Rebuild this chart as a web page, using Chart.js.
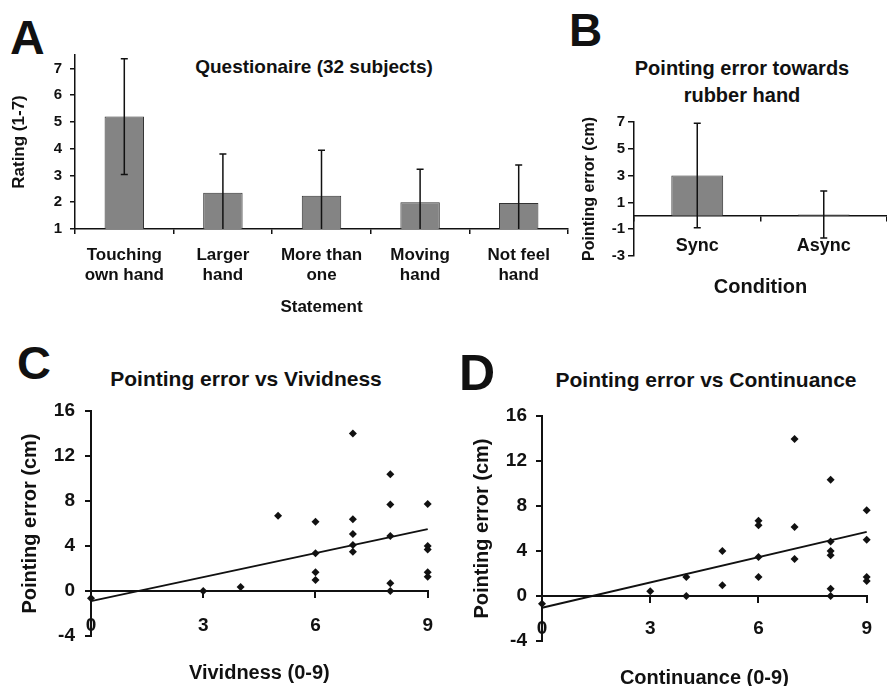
<!DOCTYPE html>
<html>
<head>
<meta charset="utf-8">
<script src="https://cdn.jsdelivr.net/npm/chart.js@4.4.1/dist/chart.umd.min.js"></script>
<style>
  html, body { margin: 0; padding: 0; background: #fff; overflow: hidden; }
  body { width: 887px; height: 686px; position: relative; font-family: 'Liberation Sans', Arial, sans-serif; color: #111; }
  canvas { position: absolute; }
  .title { position: absolute; font-weight: bold; line-height: 1.2; white-space: nowrap; text-align: center; transform: translate(-50%, -50%); }
  .letter { position: absolute; font-weight: bold; line-height: 1; }
</style>
</head>
<body>

<div class="letter" style="left:10px; top:14px; font-size:48px">A</div>
<div class="letter" style="left:569px; top:7px; font-size:46px">B</div>
<div class="letter" style="left:17px; top:339px; font-size:47px">C</div>
<div class="letter" style="left:459px; top:348px; font-size:50px">D</div>

<div class="title" style="left:314px; top:67px; font-size:19px">Questionaire (32 subjects)</div>
<div class="title" style="left:742px; top:82px; font-size:20px; line-height:27px">Pointing error towards<br>rubber hand</div>
<div class="title" style="left:246px; top:379px; font-size:21px">Pointing error vs Vividness</div>
<div class="title" style="left:706px; top:380px; font-size:21px">Pointing error vs Continuance</div>

<canvas id="chartA" width="580" height="330" style="left:0; top:0"></canvas>
<canvas id="chartB" width="327" height="340" style="left:560px; top:0"></canvas>
<canvas id="chartC" width="450" height="356" style="left:0; top:330px"></canvas>
<canvas id="chartD" width="437" height="356" style="left:450px; top:330px"></canvas>

<script>
// Panel A - questionnaire ratings
const statementLabels = [['Touching', 'own hand'], ['Larger', 'hand'], ['More than', 'one'], ['Moving', 'hand'], ['Not feel', 'hand']];
const ratingMean = [5.2, 2.35, 2.24, 2.0, 1.97];
const ratingSD = [2.16, 1.45, 1.7, 1.23, 1.42];

// Panel B - pointing error by condition
const conditionLabels = ['Sync', 'Async'];
const pointingMean = [3.0, 0.1];
const pointingSD = [3.9, 1.75];

// Panel C - pointing error vs vividness
const vividX = [0, 3, 4, 5, 6, 6, 6, 6, 7, 7, 7, 7, 7, 8, 8, 8, 8, 8, 9, 9, 9, 9, 9];
const vividY = [-0.65, 0, 0.35, 6.7, 6.16, 3.35, 1.66, 0.98, 14.0, 6.37, 5.07, 4.09, 3.5, 10.37, 7.7, 4.89, 0.68, 0, 7.73, 4.0, 3.7, 1.66, 1.27];
const vividFitX = [0, 9];
const vividFitY = [-0.9, 5.5];

// Panel D - pointing error vs continuance
const contX = [0, 3, 4, 4, 5, 5, 6, 6, 6, 6, 7, 7, 7, 8, 8, 8, 8, 8, 8, 9, 9, 9, 9];
const contY = [-0.68, 0.42, 1.69, 0, 4.0, 0.95, 6.68, 6.29, 3.47, 1.69, 13.95, 6.14, 3.29, 10.33, 4.84, 4.0, 3.62, 0.65, 0, 7.63, 5.01, 1.69, 1.34];
const contFitX = [0, 9];
const contFitY = [-1.05, 5.7];

Chart.defaults.font.family = "'Liberation Sans', Arial, sans-serif";
Chart.defaults.color = '#111';

// error bars drawn at each bar using the chart's own y scale
const errorBarPlugin = {
    id: 'errorBars',
    afterDatasetsDraw(chart, args, opts) {
        const ctx = chart.ctx;
        const area = chart.chartArea;
        const yScale = chart.scales.y;
        const bars = chart.getDatasetMeta(0).data;
        ctx.save();
        ctx.beginPath();
        ctx.rect(area.left, area.top - 10, area.width, area.height + 10);
        ctx.clip();
        ctx.strokeStyle = '#111';
        ctx.lineWidth = 1.5;
        bars.forEach((bar, i) => {
            const hi = yScale.getPixelForValue(opts.mean[i] + opts.sd[i]);
            const lo = yScale.getPixelForValue(opts.mean[i] - opts.sd[i]);
            ctx.beginPath();
            ctx.moveTo(bar.x, hi);
            ctx.lineTo(bar.x, lo);
            ctx.moveTo(bar.x - 3.5, hi);
            ctx.lineTo(bar.x + 3.5, hi);
            ctx.moveTo(bar.x - 3.5, lo);
            ctx.lineTo(bar.x + 3.5, lo);
            ctx.stroke();
        });
        ctx.restore();
    }
};

function axisGrid(len, width) {
    return { drawOnChartArea: false, color: '#111', tickLength: len, lineWidth: width };
}

const baseOptions = {
    responsive: false,
    animation: false,
    devicePixelRatio: 1,
    events: []
};

// A
new Chart(document.getElementById('chartA'), {
    type: 'bar',
    data: {
        labels: statementLabels,
        datasets: [{
            data: ratingMean,
            backgroundColor: '#848484',
            borderColor: '#333',
            borderWidth: 1,
            barPercentage: 0.4,
            categoryPercentage: 1
        }]
    },
    options: {
        ...baseOptions,
        layout: { padding: { left: 0, right: 12, top: 55, bottom: 0 } },
        plugins: {
            legend: { display: false },
            tooltip: { enabled: false },
            errorBars: { mean: ratingMean, sd: ratingSD }
        },
        scales: {
            x: {
                grid: { ...axisGrid(5, 1.5), offset: true },
                border: { color: '#111', width: 1.5 },
                ticks: { font: { size: 17, weight: 'bold' }, padding: 11, maxRotation: 0, autoSkip: false },
                title: { display: true, text: 'Statement', font: { size: 17, weight: 'bold' }, padding: { top: 0, bottom: 12 } },
                afterFit: s => { s.height = 101; }
            },
            y: {
                min: 1,
                max: 7.5,
                grid: axisGrid(5, 1.5),
                border: { color: '#111', width: 1.5 },
                ticks: { stepSize: 1, includeBounds: false, font: { size: 15, weight: 'bold' }, padding: 8 },
                title: { display: true, text: 'Rating (1-7)', font: { size: 17, weight: 'bold' }, padding: { top: 9, bottom: 0 } },
                afterFit: s => { s.width = 75; }
            }
        }
    },
    plugins: [errorBarPlugin]
});

// B
new Chart(document.getElementById('chartB'), {
    type: 'bar',
    data: {
        labels: conditionLabels,
        datasets: [{
            data: pointingMean,
            backgroundColor: '#848484',
            borderColor: '#333',
            borderWidth: 1,
            barPercentage: 0.41,
            categoryPercentage: 1
        }]
    },
    options: {
        ...baseOptions,
        layout: { padding: { left: 0, right: 0, top: 122, bottom: 84 } },
        plugins: {
            legend: { display: false },
            tooltip: { enabled: false },
            errorBars: { mean: pointingMean, sd: pointingSD }
        },
        scales: {
            x: {
                position: { y: 0 },
                grid: { ...axisGrid(5, 1.5), offset: true },
                border: { color: '#111', width: 1.5 },
                ticks: { font: { size: 18, weight: 'bold' }, padding: 14, maxRotation: 0 },
                title: { display: true, text: 'Condition', font: { size: 20, weight: 'bold' }, padding: { top: 0, bottom: 0 } },
                afterFit: s => { s.height = 84; }
            },
            y: {
                min: -3,
                max: 7,
                grid: axisGrid(6, 1.5),
                border: { color: '#111', width: 1.5 },
                ticks: { stepSize: 2, font: { size: 15, weight: 'bold' }, padding: 3 },
                title: { display: true, text: 'Pointing error (cm)', font: { size: 16, weight: 'bold' }, padding: { top: 20, bottom: 0 } },
                afterFit: s => { s.width = 74; }
            }
        }
    },
    plugins: [errorBarPlugin]
});

// C and D share the same scatter + fit layout
function scatterChart(id, xs, ys, fitX, fitY, xTitle, geom) {
    const points = xs.map((x, i) => ({ x: x, y: ys[i] }));
    const fit = fitX.map((x, i) => ({ x: x, y: fitY[i] }));
    return new Chart(document.getElementById(id), {
        type: 'scatter',
        data: {
            datasets: [
                {
                    data: points,
                    pointStyle: 'rectRot',
                    pointRadius: 4,
                    backgroundColor: '#111',
                    borderWidth: 0,
                    clip: false
                },
                {
                    data: fit,
                    showLine: true,
                    borderColor: '#111',
                    borderWidth: 2,
                    pointRadius: 0,
                    clip: false
                }
            ]
        },
        options: {
            ...baseOptions,
            layout: { padding: { left: 0, right: geom.right, top: geom.top, bottom: geom.xHeight } },
            plugins: { legend: { display: false }, tooltip: { enabled: false } },
            scales: {
                x: {
                    type: 'linear',
                    position: { y: 0 },
                    min: 0,
                    max: 9,
                    grid: axisGrid(6, 2),
                    border: { color: '#111', width: 2 },
                    ticks: { stepSize: 3, font: { size: 19, weight: 'bold' }, padding: geom.xPad, maxRotation: 0 },
                    title: { display: true, text: xTitle, font: { size: 20, weight: 'bold' }, padding: { top: 0, bottom: geom.xTitlePad } },
                    afterFit: s => { s.height = geom.xHeight; }
                },
                y: {
                    min: -4,
                    max: 16,
                    grid: axisGrid(6, 2),
                    border: { color: '#111', width: 2 },
                    ticks: { stepSize: 4, font: { size: 19, weight: 'bold' }, padding: geom.yPad },
                    title: { display: true, text: 'Pointing error (cm)', font: { size: 20, weight: 'bold' }, padding: { top: geom.yTitlePad, bottom: 0 } },
                    afterFit: s => { s.width = geom.yWidth; }
                }
            }
        }
    });
}

scatterChart('chartC', vividX, vividY, vividFitX, vividFitY, 'Vividness (0-9)',
    { right: 14, top: 81, xHeight: 50, xPad: 17, xTitlePad: -44, yWidth: 91, yPad: 10, yTitlePad: 18 });

scatterChart('chartD', contX, contY, contFitX, contFitY, 'Continuance (0-9)',
    { right: 14, top: 86, xHeight: 45, xPad: 15, xTitlePad: -49, yWidth: 92, yPad: 9, yTitlePad: 20 });
</script>
</body>
</html>
